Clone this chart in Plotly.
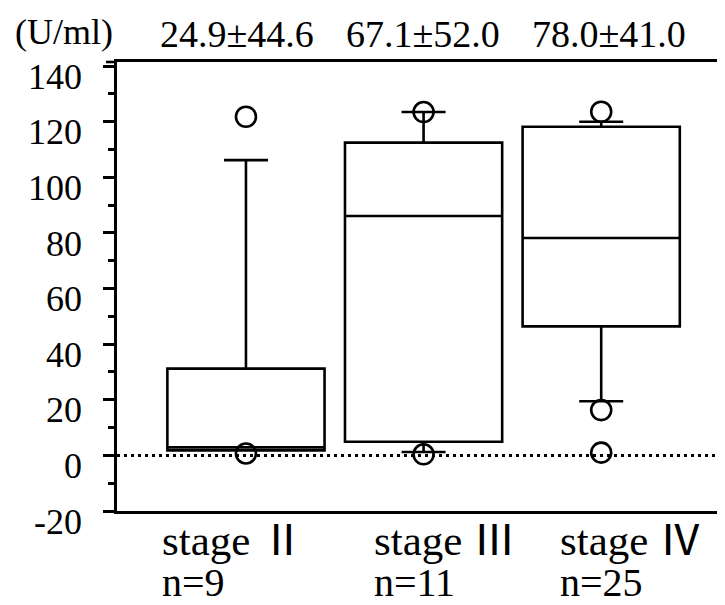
import plotly.graph_objects as go

# ---- data ----
stage_numerals = ["Ⅱ", "Ⅲ", "Ⅳ"]
n_labels = ["n=9", "n=11", "n=25"]
mean_sd = ["24.9±44.6", "67.1±52.0", "78.0±41.0"]
positions = [0, 1, 2]

q1 = [1.8, 4.9, 46.4]
median = [2.9, 86.1, 78.2]
q3 = [31.2, 112.5, 118.2]
lowerfence = [1.8, 1.2, 19.5]
upperfence = [106.2, 123.5, 120.0]
outliers = [[121.8, 0.7], [123.5, 0.4], [123.6, 16.3, 1.0]]

y_ticks = [-20, 0, 20, 40, 60, 80, 100, 120, 140]
y_ticktext = ["-20", "0", "20", "40", "60", "80", "100", "120", "140"]

# label placement (data x of left edge of each label block)
label_left = [-0.484, 0.709, 1.757]
mean_left = [-0.495, 0.554, 1.599]

FONT = "Liberation Serif"

fig = go.Figure()

fig.add_trace(go.Box(
    x=positions, q1=q1, median=median, q3=q3,
    lowerfence=lowerfence, upperfence=upperfence,
    width=0.885, whiskerwidth=0.28, boxpoints=False,
    fillcolor="rgba(0,0,0,0)",
    line=dict(color="black", width=2.6),
    showlegend=False, hoverinfo="skip",
))

ox, oy = [], []
for p, vals in zip(positions, outliers):
    for v in vals:
        ox.append(p)
        oy.append(v)
fig.add_trace(go.Scatter(
    x=ox, y=oy, mode="markers",
    marker=dict(symbol="circle-open", size=20, color="black",
                line=dict(width=2.6, color="black")),
    showlegend=False, hoverinfo="skip",
))

# dotted zero line
fig.add_shape(type="line", xref="paper", yref="y", x0=0, x1=1, y0=0, y1=0,
              line=dict(color="black", width=3, dash="3px,4px"), layer="above")
# little extension of the top frame line past the y axis
fig.add_shape(type="line", xref="paper", yref="paper", x0=-0.018, x1=0, y0=1, y1=1,
              line=dict(color="black", width=2.6))

annotations = []
for i in range(3):
    annotations.append(dict(
        x=label_left[i], xref="x", y=-0.055, yref="paper",
        xanchor="left", yanchor="middle", showarrow=False,
        text="stage <span style=\"font-family:Noto Sans CJK JP\">" + stage_numerals[i] + "</span>",
        font=dict(family=FONT, size=43, color="black"),
    ))
    annotations.append(dict(
        x=label_left[i], xref="x", y=-0.16, yref="paper",
        xanchor="left", yanchor="middle", showarrow=False,
        text=n_labels[i],
        font=dict(family=FONT, size=40, color="black"),
    ))
    annotations.append(dict(
        x=mean_left[i], xref="x", y=1.062, yref="paper",
        xanchor="left", yanchor="middle", showarrow=False,
        text=mean_sd[i],
        font=dict(family=FONT, size=38, color="black"),
    ))
annotations.append(dict(
    x=-0.171, xref="paper", y=1.066, yref="paper",
    xanchor="left", yanchor="middle", showarrow=False,
    text="(U/ml)", font=dict(family=FONT, size=36, color="black"),
))

# the page body adds an 8px margin, so the figure is 8px smaller and shifted
fig.update_layout(
    width=717, height=597,
    margin=dict(l=109, r=0, t=54, b=94),
    paper_bgcolor="white", plot_bgcolor="white",
    font=dict(family=FONT, color="black"),
    annotations=annotations,
    xaxis=dict(range=[-0.726, 2.697], showgrid=False, zeroline=False,
               showline=True, linecolor="black", linewidth=2.6, mirror=True,
               showticklabels=False, ticks=""),
    yaxis=dict(range=[-20, 141.5], showgrid=False, zeroline=False,
               showline=True, linecolor="black", linewidth=2.6,
               tickvals=y_ticks, ticktext=y_ticktext,
               ticks="outside", ticklen=11, tickwidth=2.6,
               tickcolor="black", ticklabelstandoff=14, ticklabelshift=10,
               tickfont=dict(family=FONT, size=36, color="black"),
               minor=dict(dtick=10, tick0=0, ticks="outside", ticklen=6,
                          tickwidth=2.6, tickcolor="black")),
)

fig.write_html("out.html")
